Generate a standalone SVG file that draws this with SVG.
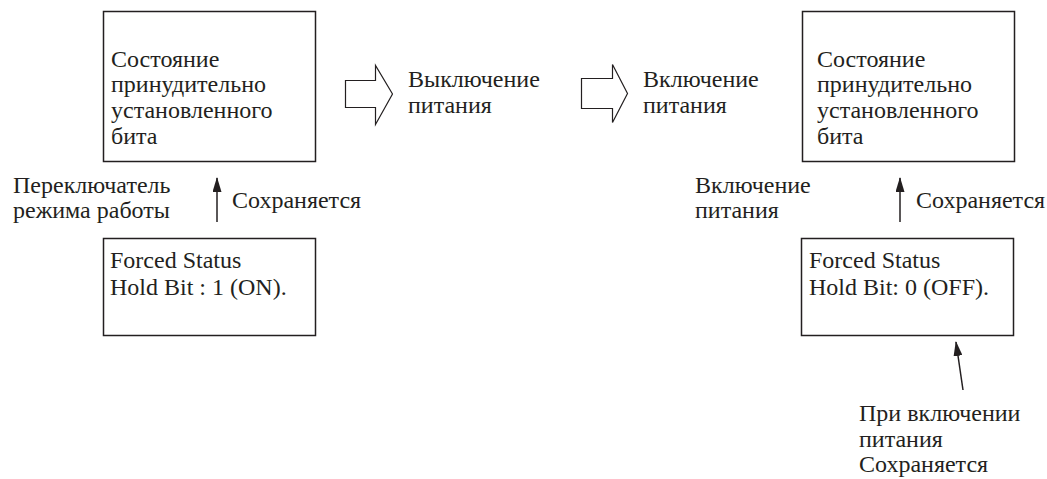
<svg xmlns="http://www.w3.org/2000/svg" width="1047" height="479" viewBox="0 0 1047 479">
  <style>
    text { font-family: "Liberation Serif", "Times New Roman", serif; font-size: 24px; fill: #231f20; }
    .box { fill: #fff; stroke: #231f20; stroke-width: 1.5; }
    .blk { fill: #fff; stroke: #231f20; stroke-width: 1.2; stroke-linejoin: miter; }
    .ln { stroke: #231f20; stroke-width: 1.5; fill: none; }
  </style>
  <defs>
    <!-- solid triangular head, 15 long by 9 wide -->
    <marker id="head" markerWidth="15" markerHeight="9" refX="14" refY="4.5" orient="auto" markerUnits="userSpaceOnUse" viewBox="0 0 15 9">
      <path d="M0,0 L15,4.5 L0,9 Z" fill="#231f20"/>
    </marker>
  </defs>
  <rect width="1047" height="479" fill="#fff"/>

  <g id="state-left">
    <rect class="box" x="103.5" y="11.5" width="212" height="150"/>
    <text x="111" y="66.5">Состояние</text>
    <text x="111" y="92">принудительно</text>
    <text x="111" y="118">установленного</text>
    <text x="111" y="143.5">бита</text>
  </g>

  <g id="hold-left">
    <rect class="box" x="103.5" y="238.5" width="212" height="97"/>
    <text x="110" y="268">Forced Status</text>
    <text x="110" y="295">Hold Bit : 1 (ON).</text>
  </g>

  <g id="state-right">
    <rect class="box" x="802.5" y="11.5" width="212" height="150"/>
    <text x="817" y="66.5">Состояние</text>
    <text x="817" y="92">принудительно</text>
    <text x="817" y="118">установленного</text>
    <text x="817" y="143.5">бита</text>
  </g>

  <g id="hold-right">
    <rect class="box" x="801.5" y="238.5" width="212" height="97"/>
    <text x="809" y="268">Forced Status</text>
    <text x="809" y="295">Hold Bit: 0 (OFF).</text>
  </g>

  <g id="power-off">
    <text x="408" y="87">Выключение</text>
    <text x="408" y="113">питания</text>
  </g>

  <g id="power-on">
    <text x="643" y="87">Включение</text>
    <text x="643" y="113">питания</text>
  </g>

  <g id="connectors">
    <!-- block arrows between stages -->
    <path class="blk" d="M345.5,80.5 H375.5 V65.5 L392.5,94 L375.5,124.5 V107.5 H345.5 Z"/>
    <path class="blk" d="M581.5,78.5 H612.5 V64.5 L627.5,93.5 L612.5,122.5 V108.5 H581.5 Z"/>
    <!-- hold bit to state -->
    <line class="ln" x1="217" y1="222" x2="217" y2="178" marker-end="url(#head)"/>
    <line class="ln" x1="900" y1="222" x2="900" y2="178" marker-end="url(#head)"/>
    <!-- power-on pointer -->
    <line class="ln" x1="963" y1="390" x2="956" y2="342" marker-end="url(#head)"/>
  </g>

  <g id="labels">
    <text x="13" y="193">Переключатель</text>
    <text x="13" y="218">режима работы</text>
    <text x="232" y="208">Сохраняется</text>
    <text x="695" y="193">Включение</text>
    <text x="695" y="218">питания</text>
    <text x="916" y="208">Сохраняется</text>
    <text x="859" y="421">При включении</text>
    <text x="859" y="447">питания</text>
    <text x="859" y="472">Сохраняется</text>
  </g>
</svg>
